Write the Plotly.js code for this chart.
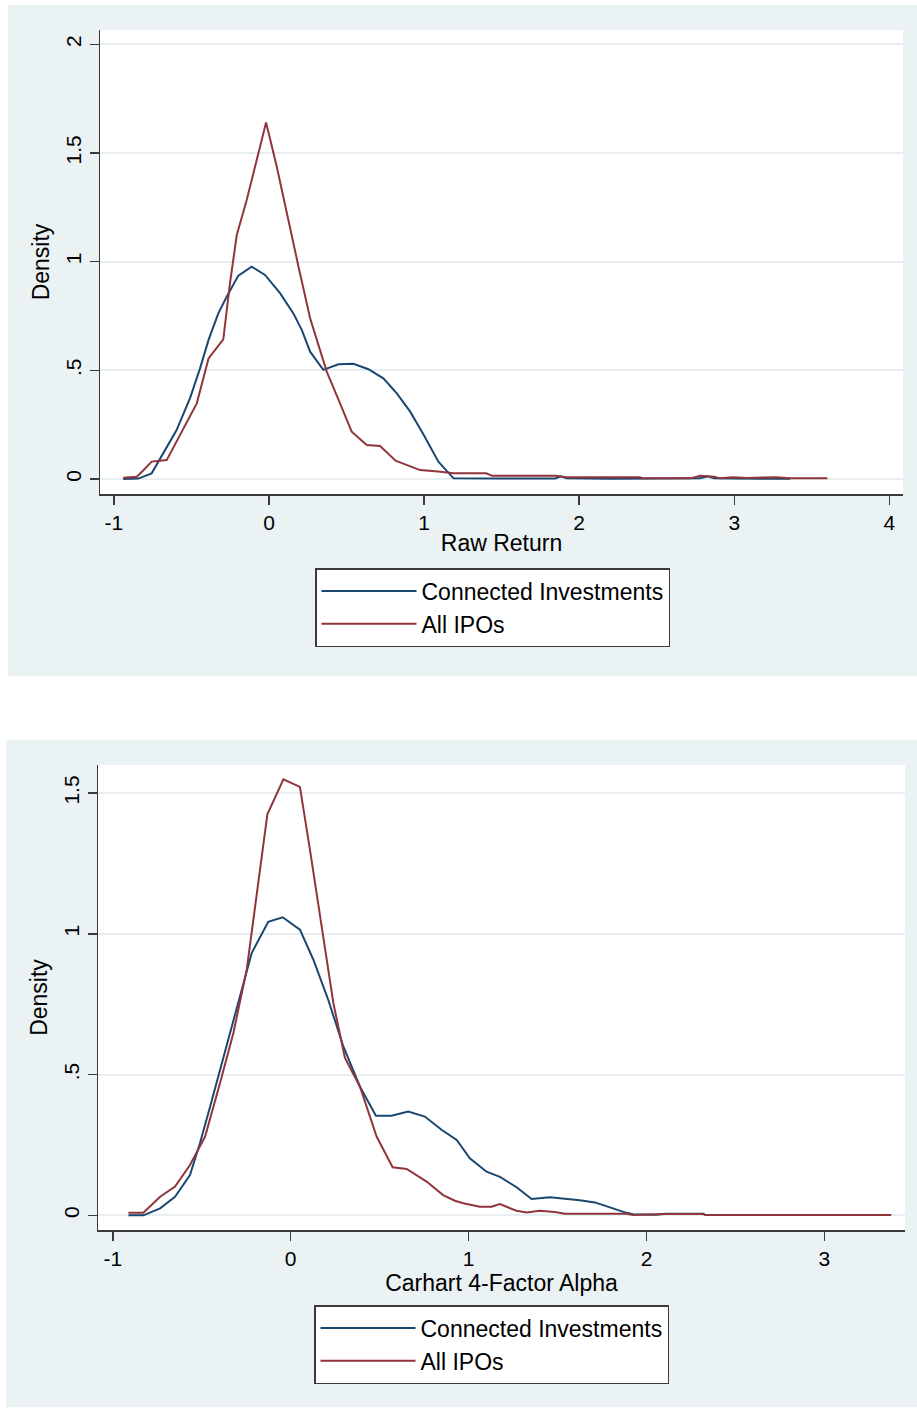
<!DOCTYPE html>
<html>
<head>
<meta charset="utf-8">
<script src="https://cdn.plot.ly/plotly-3.0.1.min.js"></script>
<style>
  html, body { margin: 0; padding: 0; background: #ffffff; }
  #chart { width: 917px; height: 1408px; }
</style>
</head>
<body>
<div id="chart"></div>
<script>
// ---------- Data ----------
const seriesNames = ["Connected Investments", "All IPOs"];

// Panel 1: Raw Return
const rawConnectedX = [-0.94, -0.843, -0.757, -0.682, -0.596, -0.51, -0.445, -0.39, -0.327, -0.273, -0.198, -0.112, -0.026, 0.071, 0.157, 0.211, 0.265, 0.35, 0.447, 0.544, 0.641, 0.737, 0.824, 0.91, 0.996, 1.092, 1.19, 1.5, 1.845, 1.88, 1.92, 2.2, 2.6, 2.78, 2.83, 2.87, 3.0, 3.36];
const rawConnectedY = [0, 0.002, 0.026, 0.118, 0.225, 0.371, 0.509, 0.64, 0.762, 0.839, 0.936, 0.977, 0.939, 0.855, 0.762, 0.686, 0.586, 0.502, 0.528, 0.53, 0.505, 0.463, 0.394, 0.31, 0.205, 0.08, 0.003, 0.002, 0.002, 0.012, 0.003, 0.001, 0.001, 0.003, 0.012, 0.003, 0.002, 0.001];

const rawAllX = [-0.94, -0.853, -0.81, -0.757, -0.66, -0.563, -0.466, -0.39, -0.295, -0.252, -0.208, -0.144, -0.08, -0.019, 0.05, 0.114, 0.19, 0.265, 0.372, 0.458, 0.533, 0.63, 0.716, 0.816, 0.974, 1.09, 1.19, 1.40, 1.437, 1.65, 1.845, 1.92, 2.39, 2.415, 2.716, 2.78, 2.87, 2.91, 2.99, 3.08, 3.27, 3.36, 3.6];
const rawAllY = [0.006, 0.01, 0.04, 0.08, 0.087, 0.218, 0.348, 0.555, 0.643, 0.90, 1.123, 1.284, 1.468, 1.64, 1.437, 1.223, 0.977, 0.74, 0.494, 0.348, 0.218, 0.156, 0.152, 0.084, 0.041, 0.034, 0.026, 0.026, 0.015, 0.015, 0.015, 0.008, 0.008, 0.003, 0.003, 0.015, 0.01, 0.003, 0.008, 0.005, 0.008, 0.003, 0.003];

// Panel 2: Carhart 4-Factor Alpha
const alphaConnectedX = [-0.912, -0.828, -0.734, -0.65, -0.566, -0.51, -0.453, -0.378, -0.303, -0.219, -0.126, -0.045, 0.052, 0.127, 0.211, 0.296, 0.389, 0.479, 0.567, 0.661, 0.754, 0.848, 0.933, 1.007, 1.101, 1.176, 1.27, 1.354, 1.457, 1.532, 1.625, 1.71, 1.794, 1.887, 1.925, 2.05, 2.11, 2.32, 2.33];
const alphaConnectedY = [0, 0, 0.025, 0.066, 0.143, 0.256, 0.386, 0.564, 0.742, 0.932, 1.043, 1.059, 1.015, 0.909, 0.766, 0.60, 0.458, 0.354, 0.354, 0.369, 0.351, 0.304, 0.268, 0.203, 0.155, 0.137, 0.10, 0.058, 0.064, 0.06, 0.054, 0.046, 0.028, 0.009, 0.004, 0.002, 0.006, 0.006, 0.001];

const alphaAllX = [-0.912, -0.828, -0.734, -0.65, -0.566, -0.481, -0.397, -0.322, -0.247, -0.191, -0.131, -0.041, 0.052, 0.108, 0.183, 0.24, 0.305, 0.389, 0.483, 0.573, 0.652, 0.764, 0.857, 0.923, 0.97, 1.063, 1.129, 1.176, 1.27, 1.326, 1.40, 1.485, 1.541, 1.887, 1.925, 2.11, 2.318, 2.33, 3.376];
const alphaAllY = [0.009, 0.009, 0.066, 0.102, 0.179, 0.28, 0.47, 0.648, 0.873, 1.146, 1.425, 1.549, 1.522, 1.30, 0.991, 0.754, 0.559, 0.458, 0.28, 0.171, 0.165, 0.12, 0.072, 0.052, 0.043, 0.031, 0.031, 0.04, 0.016, 0.01, 0.016, 0.012, 0.006, 0.006, 0.001, 0.005, 0.005, 0.001, 0.001];

// Tick labels
const xTicks1 = [-1, 0, 1, 2, 3, 4];
const xTicks2 = [-1, 0, 1, 2, 3];
const yTicks1 = [0, 0.5, 1, 1.5, 2];
const yTickText1 = ["0", ".5", "1", "1.5", "2"];
const yTicks2 = [0, 0.5, 1, 1.5];
const yTickText2 = ["0", ".5", "1", "1.5"];
const xTitle1 = "Raw Return";
const xTitle2 = "Carhart 4-Factor Alpha";
const yTitle = "Density";

// ---------- Styling ----------
const NAVY = "#1a476f";
const MAROON = "#90353b";
const PANEL = "#eaf2f3";
const AXIS = "#3a3a3a";
const GRID = "#e6eef1";
const FONT = "Liberation Sans, Arial, sans-serif";
const W = 917, H = 1408;

const traces = [
  { x: rawConnectedX, y: rawConnectedY, name: seriesNames[0], type: "scatter", mode: "lines",
    line: { color: NAVY, width: 2 }, xaxis: "x", yaxis: "y", legend: "legend" },
  { x: rawAllX, y: rawAllY, name: seriesNames[1], type: "scatter", mode: "lines",
    line: { color: MAROON, width: 2 }, xaxis: "x", yaxis: "y", legend: "legend" },
  { x: alphaConnectedX, y: alphaConnectedY, name: seriesNames[0], type: "scatter", mode: "lines",
    line: { color: NAVY, width: 2 }, xaxis: "x2", yaxis: "y2", legend: "legend2" },
  { x: alphaAllX, y: alphaAllY, name: seriesNames[1], type: "scatter", mode: "lines",
    line: { color: MAROON, width: 2 }, xaxis: "x2", yaxis: "y2", legend: "legend2" }
];

function baseAxis() {
  return {
    showline: true, linecolor: AXIS, linewidth: 1.5,
    ticks: "outside", ticklen: 9, tickwidth: 1.5, tickcolor: AXIS,
    tickfont: { family: FONT, size: 21, color: "#000" },
    zeroline: false, automargin: false, fixedrange: true
  };
}

const titleFont = { family: FONT, size: 23, color: "#000" };

const legendBase = {
  xanchor: "left", yanchor: "top",
  bgcolor: "#ffffff", bordercolor: AXIS, borderwidth: 1.5,
  font: { family: FONT, size: 23, color: "#000" },
  itemwidth: 95, tracegroupgap: 0,
  entrywidth: 364, entrywidthmode: "pixels"
};

const layout = {
  width: W, height: H,
  margin: { l: 0, r: 0, t: 0, b: 0 },
  paper_bgcolor: "#ffffff",
  plot_bgcolor: "#ffffff",
  font: { family: FONT, color: "#000" },
  showlegend: true,
  xaxis: Object.assign(baseAxis(), {
    domain: [100 / W, 903 / W], anchor: "y",
    range: [-1.09, 4.088], tickvals: xTicks1, ticktext: xTicks1.map(String),
    showgrid: false,
    title: { text: xTitle1, font: titleFont, standoff: 2 }
  }),
  yaxis: Object.assign(baseAxis(), {
    domain: [1 - 494 / H, 1 - 30 / H], anchor: "x",
    range: [-0.069, 2.066], tickvals: yTicks1, ticktext: yTickText1, tickangle: -90,
    showgrid: true, gridcolor: GRID, gridwidth: 2,
    title: { text: yTitle, font: titleFont, standoff: 6 }
  }),
  xaxis2: Object.assign(baseAxis(), {
    domain: [98 / W, 905 / W], anchor: "y2",
    range: [-1.083, 3.453], tickvals: xTicks2, ticktext: xTicks2.map(String),
    showgrid: false,
    title: { text: xTitle2, font: titleFont, standoff: 0 }
  }),
  yaxis2: Object.assign(baseAxis(), {
    domain: [1 - 1230 / H, 1 - 765 / H], anchor: "x2",
    range: [-0.052, 1.60], tickvals: yTicks2, ticktext: yTickText2, tickangle: -90,
    showgrid: true, gridcolor: GRID, gridwidth: 2,
    title: { text: yTitle, font: titleFont, standoff: 6 }
  }),
  legend: Object.assign({}, legendBase, { x: 315 / W, y: 1 - 568 / H }),
  legend2: Object.assign({}, legendBase, { x: 314 / W, y: 1 - 1305 / H }),
  shapes: [
    { type: "rect", xref: "paper", yref: "paper", x0: 8 / W, x1: 1, y0: 1 - 676 / H, y1: 1 - 5 / H,
      fillcolor: PANEL, line: { width: 0 }, layer: "below" },
    { type: "rect", xref: "paper", yref: "paper", x0: 6 / W, x1: 1, y0: 1 - 1407 / H, y1: 1 - 740 / H,
      fillcolor: PANEL, line: { width: 0 }, layer: "below" },
    { type: "rect", xref: "x domain", yref: "y domain", x0: 0, x1: 1, y0: 0, y1: 1,
      fillcolor: "#ffffff", line: { width: 0 }, layer: "below" },
    { type: "rect", xref: "x2 domain", yref: "y2 domain", x0: 0, x1: 1, y0: 0, y1: 1,
      fillcolor: "#ffffff", line: { width: 0 }, layer: "below" }
  ]
};

Plotly.newPlot("chart", traces, layout, { staticPlot: true, displayModeBar: false });
</script>
</body>
</html>
